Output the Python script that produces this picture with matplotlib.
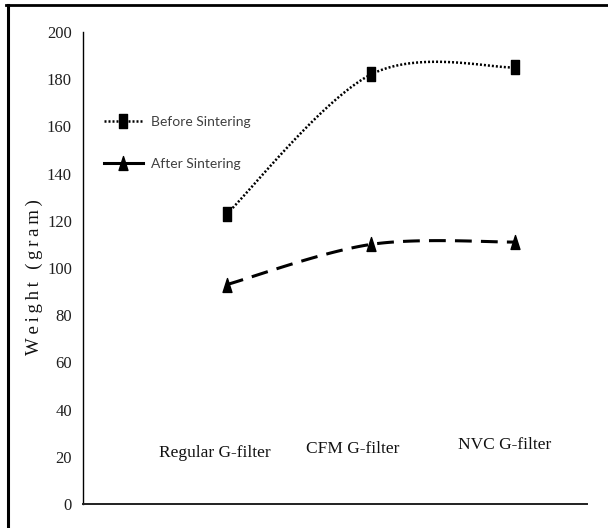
import numpy as np
import matplotlib
matplotlib.use("Agg")
import matplotlib.pyplot as plt
from matplotlib.path import Path
from matplotlib.lines import Line2D

# Data
categories = ["Regular G-filter", "CFM G-filter", "NVC G-filter"]
before_sintering = [123, 182, 185]
after_sintering = [93, 110, 111]
y_ticks = [0, 20, 40, 60, 80, 100, 120, 140, 160, 180, 200]

# Category captions sit inside the plot area, slightly left of each point
caption_dx = [-0.085, -0.125, -0.075]
caption_y = [21.5, 23.5, 25.0]

SERIF = ["Liberation Serif", "DejaVu Serif"]
LEGEND_FONT = ["Lato", "DejaVu Sans"]

fig = plt.figure(figsize=(6.08, 5.28), dpi=100)
ax = fig.add_axes([83 / 608, 1 - 504 / 528, (587 - 83) / 608, (504 - 32) / 528])
ax.set_xlim(-1, 2.5)
ax.set_ylim(0, 200)

x = np.arange(len(categories), dtype=float)


def smooth_curve(xs, ys, n=60):
    """Bezier smoothing (Catmull-Rom style) computed in display space."""
    pts = ax.transData.transform(np.column_stack([xs, ys]))
    out = []
    m = len(pts)
    for i in range(m - 1):
        p0 = pts[max(i - 1, 0)]
        p1 = pts[i]
        p2 = pts[i + 1]
        p3 = pts[min(i + 2, m - 1)]
        c1 = p1 + (p2 - p0) / 6.0
        c2 = p2 - (p3 - p1) / 6.0
        t = np.linspace(0, 1, n)[:, None]
        seg = ((1 - t) ** 3) * p1 + 3 * ((1 - t) ** 2) * t * c1 + 3 * (1 - t) * t ** 2 * c2 + t ** 3 * p2
        out.append(seg if i == 0 else seg[1:])
    out = np.vstack(out)
    data = ax.transData.inverted().transform(out)
    return data[:, 0], data[:, 1]


# Tall markers
sq_marker = Path([(-0.34, -0.5), (0.34, -0.5), (0.34, 0.5), (-0.34, 0.5), (-0.34, -0.5)],
                 [Path.MOVETO, Path.LINETO, Path.LINETO, Path.LINETO, Path.CLOSEPOLY])
tri_marker = Path([(-0.32, -0.5), (0.32, -0.5), (0.0, 0.5), (-0.32, -0.5)],
                  [Path.MOVETO, Path.LINETO, Path.LINETO, Path.CLOSEPOLY])

bx, by = smooth_curve(x, before_sintering)
ax.plot(bx, by, color="black", lw=1.8, linestyle=(0, (0.8, 0.8)), zorder=2)
ax.plot(x, before_sintering, linestyle="none", marker=sq_marker, markersize=9.5,
        color="black", zorder=3)

axx, axy = smooth_curve(x, after_sintering)
ax.plot(axx, axy, color="black", lw=2.2, linestyle=(0, (5.5, 3)), zorder=2)
ax.plot(x, after_sintering, linestyle="none", marker=tri_marker, markersize=10,
        color="black", zorder=3)

# Legend handles
h_before = Line2D([], [], color="black", lw=1.8, linestyle=(0, (0.8, 0.8)),
                  marker=sq_marker, markersize=9.5)
h_after = Line2D([], [], color="black", lw=2.2, linestyle="-",
                 marker=tri_marker, markersize=10)
leg = ax.legend([h_before, h_after], ["Before Sintering", "After Sintering"],
                loc="upper left", bbox_to_anchor=(0.03, 0.834), frameon=False,
                handlelength=2.85, handletextpad=0.55, labelspacing=2.15,
                numpoints=1, borderaxespad=0,
                prop={"family": LEGEND_FONT, "size": 10})
for t in leg.get_texts():
    t.set_color("#404040")

# Axes styling
for s in ["top", "right"]:
    ax.spines[s].set_visible(False)
ax.spines["left"].set_linewidth(1.0)
ax.spines["bottom"].set_linewidth(1.4)
ax.spines["bottom"].set_color("#202020")
ax.set_xticks([])
ax.set_yticks(y_ticks)
ax.set_yticklabels([str(v) for v in y_ticks], fontfamily=SERIF, fontsize=12, color="#202020")
ax.tick_params(axis="y", length=0, pad=8)

for xi, lab, dx, cy in zip(x, categories, caption_dx, caption_y):
    ax.text(xi + dx, cy, lab, ha="center", va="center", fontfamily=SERIF,
            fontsize=12.5, color="#111111")

fig.text(34 / 608, 1 - 277 / 528, "W\u2009e\u2009i\u2009g\u2009h\u2009t\u2009 \u2009(\u2009g\u2009r\u2009a\u2009m\u2009)",
         rotation=90, ha="center", va="center", fontfamily=SERIF, fontsize=13.5,
         color="#111111")

# Frame lines along the top and left edges
fig.add_artist(Line2D([6 / 608, 1.0], [1 - 5 / 528, 1 - 5 / 528], transform=fig.transFigure,
                      color="black", lw=2.0))
fig.add_artist(Line2D([7.5 / 608, 7.5 / 608], [0.0, 1 - 5 / 528], transform=fig.transFigure,
                      color="black", lw=2.2))

fig.savefig("out.png", dpi=100)
